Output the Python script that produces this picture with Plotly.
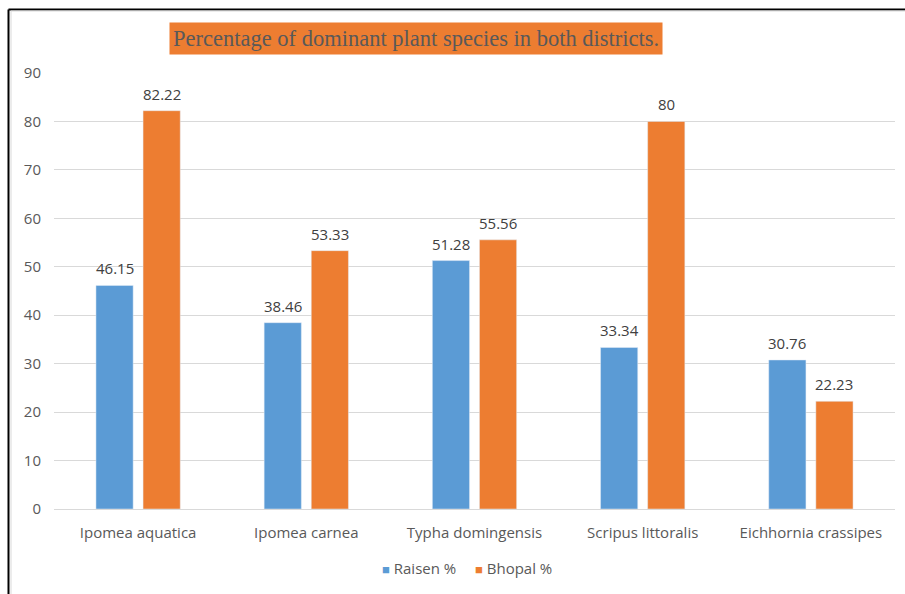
import plotly.graph_objects as go

categories = ["Ipomea aquatica", "Ipomea carnea", "Typha domingensis", "Scripus littoralis", "Eichhornia crassipes"]
raisen = [46.15, 38.46, 51.28, 33.34, 30.76]
bhopal = [82.22, 53.33, 55.56, 80, 22.23]
raisen_labels = ["46.15", "38.46", "51.28", "33.34", "30.76"]
bhopal_labels = ["82.22", "53.33", "55.56", "80", "22.23"]
series_names = ["Raisen %", "Bhopal %"]
title_text = "Percentage of dominant plant species in both districts."

BLUE = "#5B9BD5"
ORANGE = "#ED7D31"
FONT = "Open Sans"

fig = go.Figure()
fig.add_trace(go.Bar(x=categories, y=raisen, name=series_names[0], marker_color=BLUE))
fig.add_trace(go.Bar(x=categories, y=bhopal, name=series_names[1], marker_color=ORANGE))

annotations = []
for c, v, t in zip(categories, raisen, raisen_labels):
    annotations.append(dict(x=c, y=v, text=t, showarrow=False, xshift=-23.5, yshift=5,
                            yanchor="bottom", font=dict(family=FONT, size=15, color="#404040")))
for c, v, t in zip(categories, bhopal, bhopal_labels):
    annotations.append(dict(x=c, y=v, text=t, showarrow=False, xshift=23.5, yshift=5,
                            yanchor="bottom", font=dict(family=FONT, size=15, color="#404040")))
annotations.append(dict(xref="paper", yref="paper", x=(416 - 54) / 841, y=(509 - 39) / 436,
                        text=title_text, showarrow=False, xanchor="center", yanchor="middle",
                        bgcolor=ORANGE, borderpad=3,
                        font=dict(family="Liberation Serif", size=22.5, color="#595959")))

# legend drawn as text entries
legend_x = [419, 513]
legend_colors = [BLUE, ORANGE]
for name, lx, col in zip(series_names, legend_x, legend_colors):
    annotations.append(dict(xref="paper", yref="paper", x=(lx - 54) / 841, y=(509 - 568) / 436,
                            text=f"<span style='color:{col};font-size:13px'>■</span> {name}",
                            showarrow=False, xanchor="center", yanchor="middle",
                            font=dict(family=FONT, size=15, color="#595959")))

shapes = [
    dict(type="line", xref="paper", yref="paper", x0=(8.5 - 54) / 841, x1=(8.5 - 54) / 841,
         y0=(509 - 9.5) / 436, y1=(509 - 600) / 436, line=dict(color="black", width=2)),
    dict(type="line", xref="paper", yref="paper", x0=(8.5 - 54) / 841, x1=(910 - 54) / 841,
         y0=(509 - 9.5) / 436, y1=(509 - 9.5) / 436, line=dict(color="black", width=2)),
    dict(type="line", xref="paper", yref="paper", x0=(11 - 54) / 841, x1=(11 - 54) / 841,
         y0=(509 - 11) / 436, y1=(509 - 600) / 436, line=dict(color="#D9D9D9", width=1)),
    dict(type="line", xref="paper", yref="paper", x0=(11 - 54) / 841, x1=(910 - 54) / 841,
         y0=(509 - 11) / 436, y1=(509 - 11) / 436, line=dict(color="#D9D9D9", width=1)),
]

fig.update_layout(
    width=905, height=594,
    margin=dict(l=54, r=10, t=73, b=85),
    paper_bgcolor="white", plot_bgcolor="white",
    barmode="group", bargap=0.44, bargroupgap=0.21,
    font=dict(family=FONT, size=15, color="#595959"),
    xaxis=dict(showgrid=False, showline=True, linecolor="#D9D9D9", ticks="",
               ticklabelstandoff=10,
               tickfont=dict(family=FONT, size=15, color="#595959")),
    yaxis=dict(range=[0, 90], dtick=10, showgrid=True, gridcolor="#D9D9D9", zeroline=False,
               ticks="", ticklabelstandoff=12,
               tickfont=dict(family=FONT, size=15, color="#595959")),
    annotations=annotations,
    shapes=shapes,
    showlegend=False,
)

fig.write_html("out.html")
